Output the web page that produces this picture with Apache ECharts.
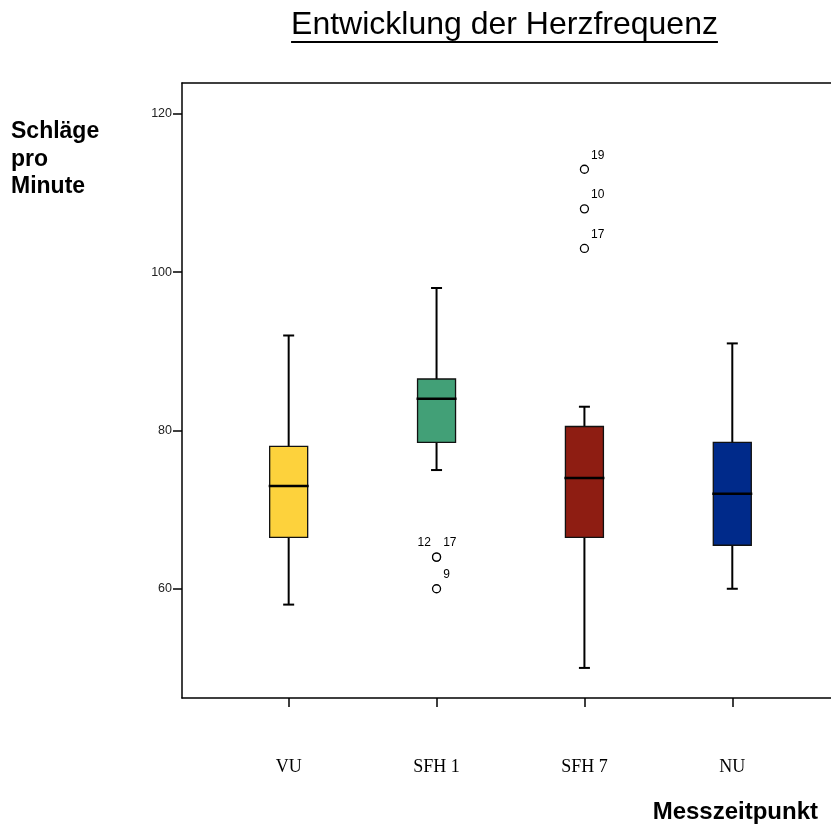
<!DOCTYPE html>
<html>
<head>
<meta charset="utf-8">
<script src="https://cdn.jsdelivr.net/npm/echarts@6/dist/echarts.min.js"></script>
<style>
  html, body { margin: 0; padding: 0; background: #fff; }
  #chart { width: 831px; height: 828px; }
</style>
</head>
<body>
<div id="chart"></div>
<script>
// Heart rate (beats per minute) at four measurement points
const categories  = ['VU', 'SFH 1', 'SFH 7', 'NU'];
const whiskerLow  = [58, 75, 50, 60];
const quartile1   = [66.5, 78.5, 66.5, 65.5];
const medians     = [73, 84, 74, 72];
const quartile3   = [78, 86.5, 80.5, 78.5];
const whiskerHigh = [92, 98, 83, 91];

// Outliers: group index, value, case number
const outlierGroup = [1, 1, 1, 2, 2, 2];
const outlierValue = [64, 64, 60, 113, 108, 103];
const outlierCase  = ['12', '17', '9', '19', '10', '17'];

const yTicks = [60, 80, 100, 120];
const boxColors = ['#FDD23C', '#42A077', '#8E1D12', '#002A8A'];

const SANS = '"Liberation Sans", Arial, Helvetica, sans-serif';
const SERIF = '"Liberation Serif", "Times New Roman", Times, serif';

const titleText = 'Entwicklung der Herzfrequenz';
const titleFont = '32px ' + SANS;
function textWidth(text, font) {
  const ctx = document.createElement('canvas').getContext('2d');
  ctx.font = font;
  return ctx.measureText(text).width;
}
const titleW = textWidth(titleText, titleFont);
const titleCx = 504.5;

const boxData = categories.map((c, i) =>
  [i, whiskerLow[i], quartile1[i], medians[i], quartile3[i], whiskerHigh[i]]);

// coincident outliers: first label goes to the left of the circle
const outlierData = outlierValue.map((v, i) => {
  let dupAfter = false;
  for (let j = i + 1; j < outlierValue.length; j++) {
    if (outlierGroup[j] === outlierGroup[i] && outlierValue[j] === v) dupAfter = true;
  }
  return {
    value: [outlierGroup[i], v],
    name: outlierCase[i],
    label: dupAfter
      ? { position: 'left', distance: 1, offset: [0, -14] }
      : { position: 'right', distance: 2, offset: [0, -14] }
  };
});

const chart = echarts.init(document.getElementById('chart'), null, { renderer: 'canvas' });

// plot frame runs past the right edge of the page; only left, top and bottom show
const gridLeft = 182, gridWidth = 831 - 182 + 2, step = 148.33;
const xMin = -(289 - gridLeft) / step;
const xMax = xMin + gridWidth / step;

const frameLine = { show: true, onZero: false, lineStyle: { color: '#000', width: 1.5 } };

chart.setOption({
  animation: false,
  backgroundColor: '#ffffff',
  grid: { left: gridLeft, top: 83, right: -2, height: 615 },
  xAxis: [
    {
      type: 'value', min: xMin, max: xMax,
      axisLine: frameLine,
      axisTick: { show: true, customValues: [0, 1, 2, 3], length: 9, lineStyle: { color: '#000', width: 1.5 } },
      axisLabel: {
        customValues: [0, 1, 2, 3],
        formatter: v => categories[Math.round(v)],
        margin: 60, fontFamily: SERIF, fontSize: 18, color: '#000'
      },
      splitLine: { show: false }
    },
    {
      type: 'value', position: 'top', min: xMin, max: xMax,
      axisLine: frameLine,
      axisTick: { show: false }, axisLabel: { show: false }, splitLine: { show: false }
    }
  ],
  yAxis: {
    type: 'value', min: 46.2, max: 123.9,
    axisLine: frameLine,
    axisTick: { show: true, customValues: yTicks, length: 9, lineStyle: { color: '#000', width: 1.5 } },
    axisLabel: { customValues: yTicks, margin: 10, fontFamily: SANS, fontSize: 12.5, color: '#222' },
    splitLine: { show: false }
  },
  series: [
    {
      type: 'custom',
      data: boxData,
      encode: { x: 0, y: [1, 2, 3, 4, 5] },
      renderItem(params, api) {
        const i = api.value(0);
        const p = v => api.coord([i, v]);
        const lo = p(api.value(1)), q1 = p(api.value(2)), md = p(api.value(3));
        const q3 = p(api.value(4)), hi = p(api.value(5));
        const cx = lo[0], half = 19, capHalf = 5.5;
        const line = (x1, y1, x2, y2, w) => ({
          type: 'line', shape: { x1, y1, x2, y2 }, style: { stroke: '#000', lineWidth: w }
        });
        return {
          type: 'group',
          children: [
            line(cx, hi[1], cx, q3[1], 2),
            line(cx, q1[1], cx, lo[1], 2),
            line(cx - capHalf, hi[1], cx + capHalf, hi[1], 2),
            line(cx - capHalf, lo[1], cx + capHalf, lo[1], 2),
            {
              type: 'rect',
              shape: { x: cx - half, y: q3[1], width: 2 * half, height: q1[1] - q3[1] },
              style: { fill: boxColors[params.dataIndex], stroke: '#111', lineWidth: 1.3 }
            },
            line(cx - half - 1, md[1], cx + half + 1, md[1], 2.5)
          ]
        };
      }
    },
    {
      type: 'scatter',
      data: outlierData,
      symbol: 'circle',
      symbolSize: 8,
      itemStyle: { color: '#fff', borderColor: '#000', borderWidth: 1.3, opacity: 1 },
      label: {
        show: true, formatter: p => p.name,
        fontFamily: SANS, fontSize: 12, color: '#000'
      },
      z: 5
    }
  ],
  graphic: [
    {
      type: 'text', x: titleCx, y: 9,
      style: { text: titleText, font: titleFont, fill: '#000', align: 'center', verticalAlign: 'top' }
    },
    {
      type: 'rect',
      shape: { x: titleCx - titleW / 2, y: 41, width: titleW, height: 2 },
      style: { fill: '#000' }
    },
    {
      type: 'text', x: 11, y: 118,
      style: {
        text: 'Schläge\npro\nMinute', font: 'bold 23px ' + SANS, lineHeight: 27.5,
        fill: '#000', align: 'left', verticalAlign: 'top'
      }
    },
    {
      type: 'text', x: 818, y: 812,
      style: {
        text: 'Messzeitpunkt', font: 'bold 24px ' + SANS,
        fill: '#000', align: 'right', verticalAlign: 'middle'
      }
    }
  ]
});
</script>
</body>
</html>
